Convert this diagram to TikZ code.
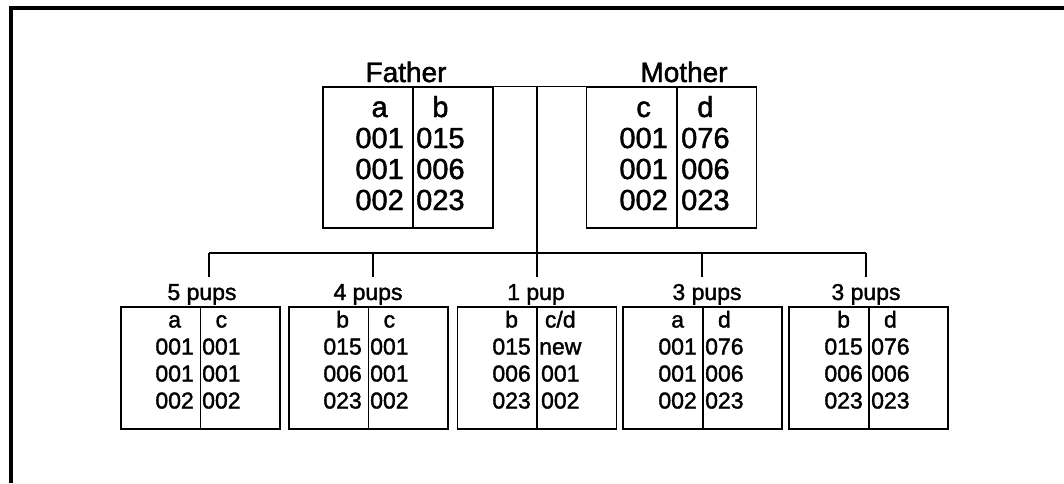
\documentclass[tikz,border=0pt]{standalone}
\usepackage{fontspec}
\setmainfont{Liberation Sans}[FakeBold=1.6]
\begin{document}
\begin{tikzpicture}[x=1pt,y=-1pt,
  pbox/.style={draw, line width=1.5pt, minimum width=170pt, minimum height=141pt, inner sep=0pt},
  cbox/.style={draw, line width=1.5pt, minimum width=159pt, minimum height=122pt, inner sep=0pt},
  bigcol/.style={inner sep=0pt, font=\fontsize{29}{31}\selectfont},
  smallcol/.style={inner sep=0pt, font=\fontsize{23}{27}\selectfont},
  biglab/.style={inner sep=0pt, anchor=base, font=\fontsize{28}{30}\selectfont},
  smalllab/.style={inner sep=0pt, anchor=base, font=\fontsize{23}{25}\selectfont},
  conn/.style={line width=1.5pt},
  divider/.style={line width=1.5pt},
  frame/.style={line width=4pt}]
\useasboundingbox (0,0) rectangle (1064,483);
% frame
\coordinate (fa) at (10.5,483);
\coordinate (fb) at (10.5,7.5);
\coordinate (fc) at (1064,7.5);
\draw[frame] (fa) -- (fb) -- (fc);

% parents
\node[pbox] (father) at (408,157.5) {};
\node[pbox] (mother) at (671.5,157.5) {};
\draw[divider] ([xshift=5pt]father.north) -- ([xshift=5pt]father.south);
\draw[divider] ([xshift=5.5pt]mother.north) -- ([xshift=5.5pt]mother.south);
\node[biglab] (flab) at (406,82) {Father};
\node[biglab] (mlab) at (684,82) {Mother};
\node[bigcol, anchor=east] (fl) at (404,157.3) {\begin{tabular}{@{}c@{}}a\\001\\001\\002\end{tabular}};
\node[bigcol, anchor=west] (fr) at (416,157.3) {\begin{tabular}{@{}c@{}}b\\015\\006\\023\end{tabular}};
\node[bigcol, anchor=east] (ml) at (668,157.3) {\begin{tabular}{@{}c@{}}c\\001\\001\\002\end{tabular}};
\node[bigcol, anchor=west] (mr) at (681,157.3) {\begin{tabular}{@{}c@{}}d\\076\\006\\023\end{tabular}};

% children
\node[cbox] (p1) at (200.5,368) {};
\node[cbox] (p2) at (368.5,368) {};
\node[cbox] (p3) at (537,368) {};
\node[cbox] (p4) at (702.5,368) {};
\node[cbox] (p5) at (868.5,368) {};
\foreach \p/\dx in {p1/0,p2/0,p3/0,p4/0.5,p5/0.5}
  \draw[divider] ([xshift=\dx pt]\p.north) -- ([xshift=\dx pt]\p.south);

\node[smalllab] (l1) at (202,300) {5 pups};
\node[smalllab] (l2) at (368,300) {4 pups};
\node[smalllab] (l3) at (536,300) {1 pup};
\node[smalllab] (l4) at (707,300) {3 pups};
\node[smalllab] (l5) at (866,300) {3 pups};

\node[smallcol, anchor=east] (c1l) at (194,362.6) {\begin{tabular}{@{}c@{}}a\\001\\001\\002\end{tabular}};
\node[smallcol, anchor=west] (c1r) at (202,362.6) {\begin{tabular}{@{}c@{}}c\\001\\001\\002\end{tabular}};
\node[smallcol, anchor=east] (c2l) at (362,362.6) {\begin{tabular}{@{}c@{}}b\\015\\006\\023\end{tabular}};
\node[smallcol, anchor=west] (c2r) at (370,362.6) {\begin{tabular}{@{}c@{}}c\\001\\001\\002\end{tabular}};
\node[smallcol, anchor=east] (c3l) at (531,362.6) {\begin{tabular}{@{}c@{}}b\\015\\006\\023\end{tabular}};
\node[smallcol, anchor=west] (c3r) at (539,362.6) {\begin{tabular}{@{}c@{}}c/d\\new\\001\\002\end{tabular}};
\node[smallcol, anchor=east] (c4l) at (697,362.6) {\begin{tabular}{@{}c@{}}a\\001\\001\\002\end{tabular}};
\node[smallcol, anchor=west] (c4r) at (705,362.6) {\begin{tabular}{@{}c@{}}d\\076\\006\\023\end{tabular}};
\node[smallcol, anchor=east] (c5l) at (863,362.6) {\begin{tabular}{@{}c@{}}b\\015\\006\\023\end{tabular}};
\node[smallcol, anchor=west] (c5r) at (871,362.6) {\begin{tabular}{@{}c@{}}d\\076\\006\\023\end{tabular}};

% connectors
\coordinate (j) at (537,253);
\coordinate (d1) at (209,277);
\coordinate (d2) at (373,277);
\coordinate (d3) at (537,277);
\coordinate (d4) at (702,277);
\coordinate (d5) at (866,277);
\draw[conn] (father.north east) -- (mother.north west);
\draw[conn] (d3 |- father.north) -- (d3);
\draw[conn] (d1 |- j) -- (d5 |- j);
\foreach \d in {d1,d2,d4,d5}
  \draw[conn] (\d |- j) -- (\d);
\end{tikzpicture}
\end{document}
